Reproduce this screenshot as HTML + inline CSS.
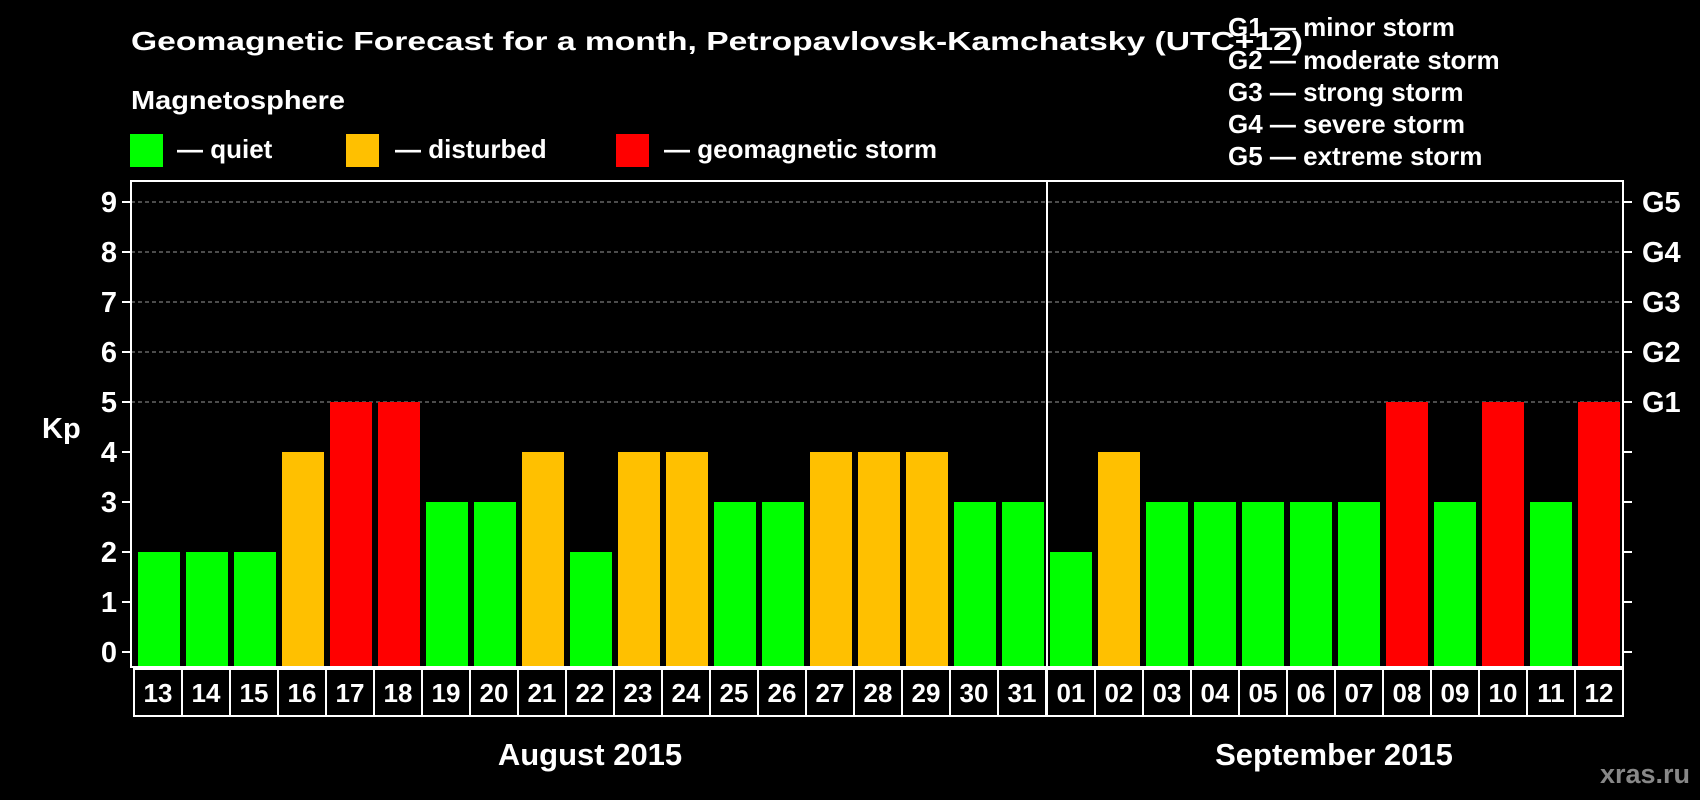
<!DOCTYPE html>
<html><head><meta charset="utf-8"><style>
html,body{margin:0;padding:0;background:#000;}
svg{display:block;font-family:"Liberation Sans",Arial,sans-serif;font-weight:bold;}
</style></head><body>
<svg id="chart" width="1700" height="800" viewBox="0 0 1700 800">
<rect x="0" y="0" width="1700" height="800" fill="#000"/>
<text x="131" y="50" fill="#fff" font-size="26" textLength="1172" lengthAdjust="spacingAndGlyphs">Geomagnetic Forecast for a month, Petropavlovsk-Kamchatsky (UTC+12)</text>
<text x="131" y="109" fill="#fff" font-size="26" textLength="214" lengthAdjust="spacingAndGlyphs">Magnetosphere</text>
<g>
<rect x="130" y="134" width="33" height="33" fill="#00ff00"/>
<text x="177" y="158" fill="#fff" font-size="26">— quiet</text></g>
<g>
<rect x="346" y="134" width="33" height="33" fill="#ffc000"/>
<text x="395" y="158" fill="#fff" font-size="26">— disturbed</text></g>
<g>
<rect x="616" y="134" width="33" height="33" fill="#ff0000"/>
<text x="664" y="158" fill="#fff" font-size="26">— geomagnetic storm</text></g>
<g fill="#fff" font-size="26">
<text x="1228" y="36">G1 — minor storm</text>
<text x="1228" y="69">G2 — moderate storm</text>
<text x="1228" y="101">G3 — strong storm</text>
<text x="1228" y="133">G4 — severe storm</text>
<text x="1228" y="165">G5 — extreme storm</text>
</g>
<text x="42" y="438" fill="#fff" font-size="29">Kp</text>
<g id="plot"></g>
<text x="590" y="765" fill="#fff" font-size="31" text-anchor="middle">August 2015</text>
<text x="1334" y="765" fill="#fff" font-size="31" text-anchor="middle">September 2015</text>
<text x="1690" y="783" fill="#888" font-size="27" text-anchor="end">xras.ru</text>
</svg>
<script>
const augDays = ["13","14","15","16","17","18","19","20","21","22","23","24","25","26","27","28","29","30","31"];
const augKp = [2,2,2,4,5,5,3,3,4,2,4,4,3,3,4,4,4,3,3];
const sepDays = ["01","02","03","04","05","06","07","08","09","10","11","12"];
const sepKp = [2,4,3,3,3,3,3,5,3,5,3,5];
const yTicks = [0,1,2,3,4,5,6,7,8,9];
const gLabels = ["G1","G2","G3","G4","G5"];
const gLevels = [5,6,7,8,9];

const NS="http://www.w3.org/2000/svg";
const plot=document.getElementById('plot');
const L=131,R=1623,T=181,B=667,Y0=652,U=50,BAR=42,PITCH=48;
const y=v=>Y0-v*U;
function mk(tag,at,parent){const e=document.createElementNS(NS,tag);for(const k in at)e.setAttribute(k,at[k]);(parent||plot).appendChild(e);return e;}
function color(v){return v>=5?"#ff0000":(v>=4?"#ffc000":"#00ff00");}

gLevels.forEach(v=>{
  const g=mk('line',{x1:L,x2:R,y1:y(v),y2:y(v),stroke:"#999","stroke-width":1,"stroke-dasharray":"4,3"});
  
  
});
yTicks.forEach(v=>{
  const t=mk('line',{x1:L-9,x2:L,y1:y(v),y2:y(v),stroke:"#fff","stroke-width":2});
  
  
  const t2=mk('line',{x1:R,x2:R+9,y1:y(v),y2:y(v),stroke:"#fff","stroke-width":2});
  
  
  const tx=mk('text',{x:117,y:y(v)+10,fill:"#fff","font-size":29,"text-anchor":"end"});
  tx.textContent=v;
  
  
});
gLabels.forEach((g,i)=>{
  const tx=mk('text',{x:1642,y:y(gLevels[i])+10,fill:"#fff","font-size":29});
  tx.textContent=g;
  
  
});
function drawMonth(days,vals,bx0,boxX0){
  days.forEach((d,i)=>{
    const v=vals[i];
    const r=mk('rect',{x:bx0+i*PITCH,y:y(v),width:BAR,height:B-y(v),fill:color(v)});
    
    
    const bx=mk('rect',{x:boxX0+i*PITCH,y:669,width:PITCH,height:47,fill:"none",stroke:"#fff","stroke-width":2});
    
    
    const tx=mk('text',{x:boxX0+i*PITCH+PITCH/2,y:702,fill:"#fff","font-size":26,"text-anchor":"middle"});
    tx.textContent=d;
    
    
  });
}
drawMonth(augDays,augKp,138,134);
drawMonth(sepDays,sepKp,1050,1047);
const fr=mk('rect',{x:L,y:T,width:R-L,height:B-T,fill:"none",stroke:"#fff","stroke-width":2});


const dv=mk('line',{x1:1047,x2:1047,y1:T,y2:B,stroke:"#fff","stroke-width":2});


</script>
</body></html>
